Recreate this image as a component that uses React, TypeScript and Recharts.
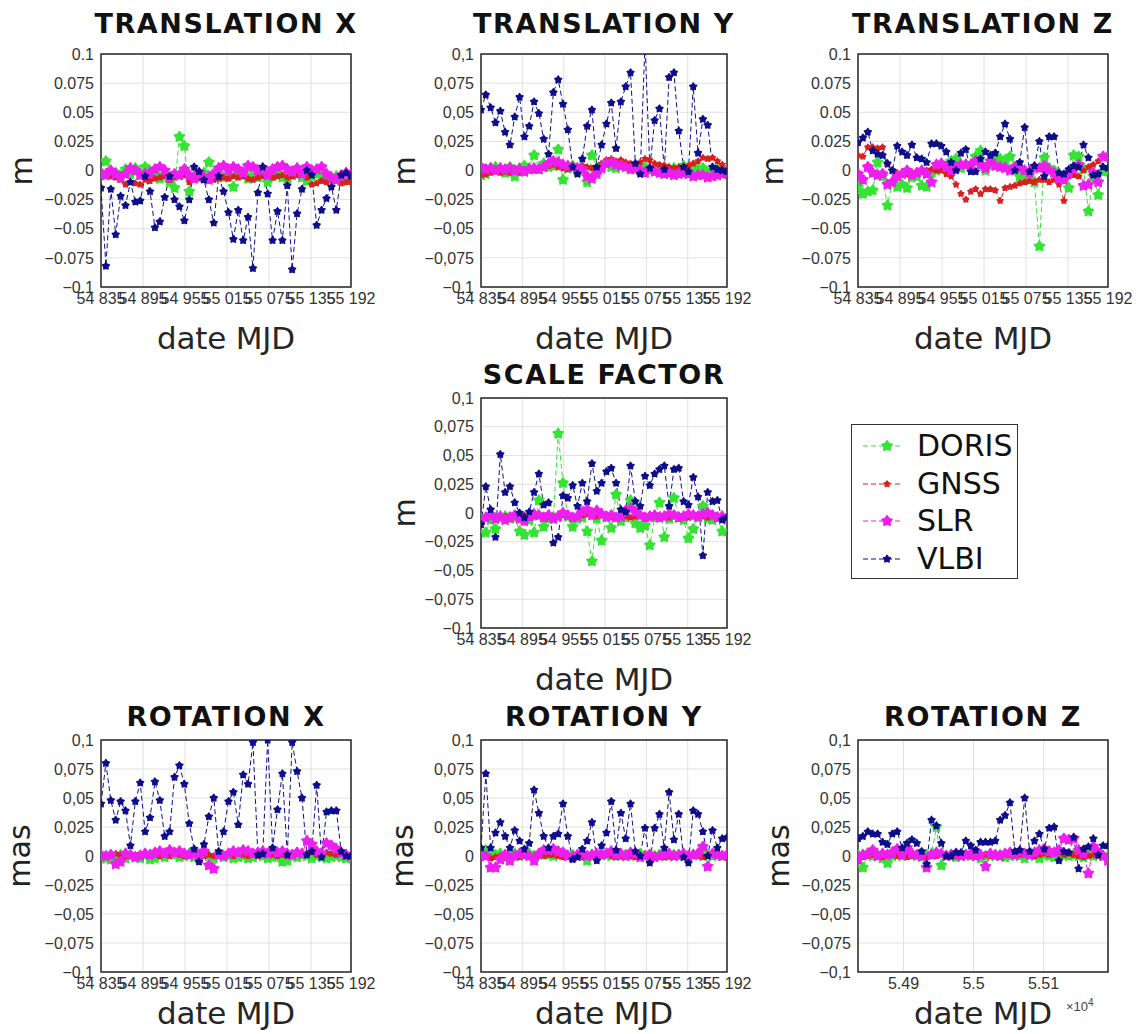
import React from 'react';
import { LineChart, Line, XAxis, YAxis, CartesianGrid, ReferenceArea } from 'recharts';

// weekly solutions, MJD
const MJD = [
  54835, 54842, 54849, 54856, 54863, 54870, 54877, 54884, 54891, 54898, 54905, 54912, 54919,
  54926, 54933, 54940, 54947, 54954, 54961, 54968, 54975, 54982, 54989, 54996, 55003, 55010,
  55017, 55024, 55031, 55038, 55045, 55052, 55059, 55066, 55073, 55080, 55087, 55094, 55101,
  55108, 55115, 55122, 55129, 55136, 55143, 55150, 55157, 55164, 55171, 55178, 55185, 55192,
];

const Y_TICKS = [-0.1, -0.075, -0.05, -0.025, 0, 0.025, 0.05, 0.075, 0.1];
const X_TICKS = [54835, 54895, 54955, 55015, 55075, 55135, 55192];
const X_TICKS_E4 = [54900, 55000, 55100];

// ---- TRANSLATION X (m)
const txDoris = [-0.003, 0.008, -0.004, -0.002, -0.006, 0.001, -0.003, 0.002, -0.004, 0.003, -0.005, -0.003, -0.007, -0.004, -0.010, -0.015, 0.029, 0.021, -0.018, -0.005, -0.003, -0.002, 0.007, -0.004, -0.003, -0.006, -0.005, -0.014, -0.002, -0.004, -0.007, -0.004, -0.006, -0.003, -0.010, -0.005, -0.003, -0.006, -0.008, -0.004, -0.002, -0.006, -0.009, -0.005, -0.003, -0.006, -0.004, -0.007, -0.005, -0.009, -0.006, -0.008];
const txGnss = [-0.003, -0.004, -0.005, -0.006, -0.008, -0.012, -0.010, -0.011, -0.012, -0.008, -0.009, -0.007, -0.006, -0.005, -0.008, -0.006, -0.005, -0.004, -0.010, -0.008, -0.007, -0.006, -0.005, -0.008, -0.007, -0.006, -0.007, -0.005, -0.006, -0.005, -0.007, -0.008, -0.006, -0.005, -0.004, -0.006, -0.005, -0.004, -0.006, -0.005, -0.004, -0.003, -0.006, -0.012, -0.011, -0.009, -0.010, -0.008, -0.009, -0.011, -0.010, -0.010];
const txSlr = [-0.002, -0.004, 0.000, -0.003, -0.006, -0.003, 0.002, 0.000, -0.004, -0.003, -0.002, 0.001, 0.003, 0.000, -0.006, -0.003, -0.004, 0.001, -0.004, -0.007, -0.002, -0.006, -0.008, -0.003, 0.002, 0.004, 0.000, 0.003, 0.001, -0.002, 0.004, 0.003, 0.000, 0.002, -0.004, 0.001, 0.003, 0.004, 0.001, -0.001, 0.002, -0.003, 0.003, 0.000, 0.001, 0.003, -0.003, -0.006, -0.008, -0.004, -0.002, -0.003];
const txVlbi = [-0.015, -0.082, -0.016, -0.055, -0.022, -0.030, -0.010, -0.027, -0.026, -0.005, -0.018, -0.049, -0.044, -0.023, -0.005, -0.025, -0.031, -0.043, -0.025, 0.003, -0.001, -0.008, -0.025, -0.045, -0.005, -0.018, -0.036, -0.059, -0.034, -0.060, -0.040, -0.084, -0.019, 0.003, -0.020, -0.060, -0.035, -0.060, -0.013, -0.085, -0.037, -0.016, 0.000, -0.004, -0.047, -0.034, -0.024, -0.014, -0.034, -0.004, -0.002, -0.005];

// ---- TRANSLATION Y (m)
const tyDoris = [-0.004, -0.003, 0.002, 0.003, 0.001, -0.002, 0.003, -0.005, 0.002, 0.004, 0.002, 0.013, 0.001, 0.006, 0.003, 0.004, 0.018, -0.008, 0.002, 0.004, -0.001, 0.003, -0.010, 0.013, 0.002, 0.004, 0.006, 0.003, 0.002, 0.005, 0.004, 0.003, 0.001, 0.002, 0.003, 0.000, 0.002, 0.001, 0.003, 0.001, 0.002, 0.000, 0.004, 0.002, 0.003, 0.001, 0.002, -0.002, 0.000, 0.001, 0.002, -0.001];
const tyGnss = [-0.004, -0.003, -0.002, -0.001, -0.002, -0.001, -0.002, -0.001, -0.002, -0.001, 0.000, 0.000, 0.002, 0.003, 0.004, 0.005, 0.003, 0.002, 0.001, 0.002, 0.003, 0.004, 0.003, 0.002, 0.001, 0.006, 0.009, 0.010, 0.008, 0.009, 0.007, 0.006, 0.005, 0.007, 0.010, 0.009, 0.006, 0.005, 0.004, 0.003, 0.002, 0.003, 0.002, 0.004, 0.006, 0.008, 0.011, 0.010, 0.011, 0.008, 0.005, 0.001];
const tySlr = [0.003, 0.001, 0.002, 0.000, 0.002, 0.001, 0.002, 0.000, 0.001, -0.001, 0.001, 0.002, 0.001, 0.003, 0.006, 0.008, 0.007, 0.005, 0.004, 0.003, 0.002, 0.001, -0.005, -0.007, -0.003, 0.002, 0.006, 0.007, 0.005, 0.004, 0.003, 0.001, 0.002, 0.000, -0.002, 0.001, -0.001, -0.002, -0.003, -0.002, -0.004, -0.003, -0.002, -0.003, -0.005, -0.004, -0.004, -0.006, -0.005, -0.004, -0.003, -0.002];
const tyVlbi = [0.052, 0.065, 0.054, 0.041, 0.051, 0.033, 0.022, 0.046, 0.063, 0.029, 0.038, 0.059, 0.049, 0.027, 0.014, 0.067, 0.078, 0.057, 0.035, 0.003, -0.003, 0.010, 0.038, 0.052, 0.003, 0.022, 0.040, 0.058, 0.019, 0.059, 0.072, 0.084, 0.006, -0.003, 0.110, 0.002, 0.043, 0.053, 0.001, 0.080, 0.084, 0.034, 0.003, -0.001, 0.072, 0.015, 0.044, 0.039, 0.003, 0.001, 0.000, -0.001];

// ---- TRANSLATION Z (m)
const tzDoris = [-0.014, -0.020, -0.018, -0.017, 0.007, -0.005, -0.030, -0.010, -0.014, -0.012, -0.015, -0.006, -0.005, -0.013, -0.014, -0.002, 0.000, 0.005, 0.003, 0.008, 0.010, 0.002, 0.005, 0.005, 0.012, 0.017, 0.000, 0.005, 0.012, 0.010, 0.008, 0.012, 0.002, -0.005, -0.008, -0.004, -0.010, -0.065, 0.011, 0.002, 0.000, -0.003, -0.008, -0.015, 0.013, 0.012, 0.002, -0.035, -0.005, -0.021, -0.001, 0.000];
const tzGnss = [0.013, 0.012, 0.020, 0.020, 0.019, 0.020, 0.005, 0.000, -0.002, -0.003, -0.003, -0.002, -0.003, -0.001, 0.000, 0.001, 0.000, 0.000, -0.003, -0.005, -0.012, -0.020, -0.025, -0.018, -0.016, -0.020, -0.016, -0.016, -0.017, -0.026, -0.015, -0.014, -0.013, -0.011, -0.010, -0.009, -0.010, -0.008, -0.008, -0.010, -0.008, -0.012, -0.026, -0.005, -0.004, -0.005, 0.000, 0.003, 0.005, 0.008, 0.012, 0.012];
const tzSlr = [-0.003, -0.008, 0.003, -0.002, -0.004, -0.003, -0.012, -0.010, -0.005, -0.003, 0.000, -0.004, -0.002, 0.000, -0.003, -0.010, 0.005, 0.006, 0.003, 0.000, 0.003, 0.005, 0.005, 0.004, 0.008, 0.005, 0.002, 0.008, 0.004, 0.003, 0.002, 0.000, 0.003, 0.002, 0.000, -0.002, 0.003, 0.002, 0.004, 0.000, -0.002, -0.007, -0.008, -0.002, 0.002, 0.005, -0.013, -0.012, -0.002, -0.010, 0.012, 0.012];
const tzVlbi = [0.024, 0.028, 0.033, 0.017, 0.014, 0.013, 0.006, 0.000, 0.021, 0.016, 0.013, 0.022, 0.011, 0.010, 0.007, 0.023, 0.023, 0.021, 0.016, 0.007, 0.000, 0.015, 0.018, -0.001, -0.001, 0.010, 0.016, 0.013, 0.015, 0.029, 0.040, 0.027, 0.000, 0.007, 0.037, -0.001, 0.004, 0.025, -0.005, 0.029, 0.029, -0.002, -0.003, 0.001, 0.004, 0.003, 0.022, 0.011, -0.004, -0.003, 0.003, 0.002];

// ---- SCALE FACTOR (m)
const scDoris = [-0.005, -0.017, -0.006, -0.014, -0.004, -0.003, -0.005, -0.004, -0.016, -0.019, -0.006, -0.017, 0.011, -0.012, -0.005, -0.004, 0.069, 0.026, -0.003, -0.012, -0.005, -0.004, -0.016, -0.042, -0.005, -0.024, -0.004, -0.013, 0.016, -0.007, -0.004, 0.011, -0.009, -0.013, -0.011, -0.028, -0.004, 0.009, -0.021, -0.005, 0.013, -0.004, -0.006, -0.022, -0.014, -0.004, 0.006, -0.005, -0.006, -0.004, -0.016, -0.005];
const scGnss = [-0.004, -0.003, -0.002, -0.003, -0.004, -0.003, -0.002, -0.003, -0.003, -0.002, -0.004, -0.003, -0.002, -0.003, -0.004, -0.003, -0.002, -0.002, -0.003, -0.004, -0.003, -0.002, -0.001, -0.002, -0.003, -0.002, -0.003, -0.004, -0.003, -0.002, -0.003, -0.004, -0.003, -0.002, -0.003, -0.004, -0.003, -0.002, -0.003, -0.004, -0.003, -0.002, -0.003, -0.004, -0.003, -0.002, -0.003, -0.004, -0.003, -0.002, -0.003, -0.004];
const scSlr = [-0.006, -0.004, -0.002, -0.005, -0.003, -0.006, -0.004, -0.002, -0.005, -0.007, -0.003, -0.001, -0.002, -0.004, -0.002, -0.005, -0.003, 0.000, -0.002, -0.004, -0.003, 0.001, 0.003, -0.002, 0.002, -0.001, -0.003, -0.002, -0.004, -0.003, 0.002, 0.004, 0.001, -0.002, -0.004, -0.003, -0.002, -0.004, -0.003, -0.001, -0.002, -0.004, -0.003, -0.001, -0.002, -0.003, -0.001, 0.000, -0.002, -0.004, -0.003, -0.005];
const scVlbi = [-0.010, 0.023, 0.003, -0.021, 0.051, 0.018, 0.023, 0.009, 0.000, -0.004, 0.001, 0.018, 0.034, 0.007, 0.009, -0.026, -0.021, 0.015, 0.013, 0.024, 0.006, 0.026, 0.010, 0.043, 0.019, 0.026, 0.036, 0.039, 0.026, 0.003, 0.001, 0.041, 0.010, 0.006, 0.032, 0.024, 0.034, 0.038, 0.041, 0.006, 0.038, 0.039, 0.010, 0.007, 0.031, 0.014, -0.037, 0.018, 0.010, 0.011, -0.006, -0.004];

// ---- ROTATION X (mas)
const rxDoris = [0.000, -0.002, -0.003, -0.001, 0.001, -0.002, 0.000, -0.001, -0.002, 0.001, -0.003, -0.002, 0.000, -0.001, 0.002, 0.001, -0.001, 0.000, 0.002, -0.001, 0.001, 0.002, 0.000, -0.002, 0.001, -0.001, 0.000, -0.002, -0.001, 0.000, -0.002, -0.001, 0.001, 0.000, -0.002, -0.001, 0.000, -0.005, -0.004, 0.000, -0.001, 0.001, 0.000, -0.002, 0.000, -0.001, -0.002, -0.001, 0.000, -0.001, -0.002, -0.001];
const rxGnss = [0.001, 0.000, 0.001, 0.002, 0.001, 0.000, 0.001, 0.000, 0.002, 0.001, 0.000, 0.001, 0.000, 0.001, 0.000, 0.002, 0.001, 0.000, 0.001, 0.002, 0.001, 0.000, 0.001, 0.000, 0.001, 0.000, 0.001, 0.000, 0.002, 0.001, 0.000, 0.001, 0.000, 0.001, 0.002, 0.001, 0.000, 0.001, 0.000, 0.001, 0.002, 0.001, 0.002, 0.003, 0.001, 0.002, 0.003, 0.002, 0.001, 0.002, 0.000, 0.001];
const rxSlr = [0.001, 0.000, 0.001, -0.007, -0.005, 0.002, 0.001, -0.001, 0.000, 0.002, 0.001, 0.003, 0.004, 0.002, 0.005, 0.003, 0.004, 0.002, 0.001, 0.003, -0.002, 0.004, -0.008, -0.011, 0.001, 0.000, 0.002, 0.004, 0.003, 0.005, 0.004, 0.002, 0.003, 0.004, 0.002, 0.005, 0.003, 0.004, 0.002, 0.001, 0.003, 0.002, 0.013, 0.010, 0.004, 0.002, 0.011, 0.009, 0.006, 0.003, 0.001, 0.000];
const rxVlbi = [0.045, 0.080, 0.048, 0.031, 0.047, 0.039, 0.009, 0.047, 0.063, 0.021, 0.033, 0.064, 0.048, 0.017, 0.021, 0.068, 0.078, 0.062, 0.028, 0.006, -0.005, 0.010, 0.034, 0.050, 0.004, 0.021, 0.047, 0.055, 0.027, 0.070, 0.062, 0.098, 0.001, 0.002, 0.100, 0.007, 0.040, 0.071, 0.001, 0.098, 0.073, 0.050, 0.001, 0.004, 0.061, -0.001, 0.038, 0.039, 0.039, 0.004, 0.000, 0.000];

// ---- ROTATION Y (mas)
const ryDoris = [0.003, 0.005, 0.003, 0.001, 0.002, 0.000, 0.001, 0.002, 0.000, 0.001, 0.002, 0.000, 0.001, 0.002, 0.001, 0.000, 0.002, 0.001, 0.000, 0.001, 0.000, 0.002, -0.004, 0.001, 0.000, 0.002, 0.001, 0.000, 0.001, 0.000, 0.001, 0.000, 0.001, 0.002, 0.000, 0.001, 0.000, 0.001, 0.002, 0.000, 0.001, 0.000, 0.001, 0.000, 0.001, 0.002, 0.000, 0.001, 0.000, 0.001, 0.000, 0.001];
const ryGnss = [-0.001, 0.000, -0.002, -0.001, 0.000, -0.002, -0.001, 0.000, -0.001, 0.001, 0.000, -0.001, 0.001, 0.000, 0.001, 0.001, 0.000, -0.001, 0.000, 0.001, 0.000, -0.001, 0.000, 0.001, 0.000, 0.000, 0.001, 0.000, -0.001, 0.000, 0.001, 0.000, -0.001, 0.000, -0.001, -0.002, -0.001, 0.000, -0.001, 0.000, 0.001, 0.000, -0.001, 0.000, 0.001, 0.000, -0.001, 0.000, 0.001, 0.000, 0.000, 0.001];
const rySlr = [0.001, 0.000, -0.010, -0.010, -0.003, 0.001, -0.004, 0.000, 0.002, 0.001, 0.000, -0.004, 0.002, 0.005, 0.005, 0.006, 0.004, 0.003, 0.000, -0.001, 0.001, 0.002, 0.000, 0.001, 0.002, 0.001, 0.002, 0.004, 0.001, 0.002, 0.000, 0.003, 0.002, -0.001, 0.000, 0.001, -0.001, 0.000, 0.001, 0.002, 0.000, 0.001, 0.002, 0.000, 0.001, 0.002, 0.008, -0.009, 0.002, 0.001, 0.000, 0.001];
const ryVlbi = [0.007, 0.071, 0.007, 0.020, 0.029, 0.017, 0.007, 0.022, 0.013, 0.006, 0.011, 0.057, 0.037, 0.017, 0.007, 0.017, 0.019, 0.045, 0.017, -0.003, -0.001, 0.006, 0.013, 0.029, -0.004, 0.009, 0.020, 0.047, 0.005, 0.037, 0.015, 0.045, 0.004, 0.000, 0.024, -0.006, 0.024, 0.036, 0.007, 0.055, 0.014, 0.036, -0.001, -0.006, 0.039, 0.036, 0.021, 0.000, 0.022, 0.007, 0.015, 0.016];

// ---- ROTATION Z (mas)
const rzDoris = [0.001, -0.010, 0.002, 0.000, 0.001, -0.002, -0.006, 0.000, 0.001, 0.000, 0.002, 0.001, 0.000, -0.001, 0.001, 0.002, 0.025, -0.008, 0.000, 0.001, -0.001, 0.000, 0.001, 0.000, 0.001, -0.002, 0.000, 0.001, 0.000, 0.001, -0.001, 0.000, 0.001, 0.000, -0.002, 0.001, 0.000, -0.002, 0.001, 0.000, -0.001, 0.000, 0.001, 0.000, 0.001, 0.000, -0.001, 0.003, 0.000, 0.001, 0.000, 0.000];
const rzGnss = [0.000, -0.001, 0.000, 0.001, 0.000, -0.001, 0.000, 0.001, 0.000, 0.000, -0.001, 0.000, 0.001, 0.000, -0.001, 0.000, 0.000, 0.001, 0.000, -0.001, 0.000, 0.001, 0.000, 0.000, -0.001, 0.000, 0.001, 0.000, 0.000, 0.001, 0.002, 0.001, 0.000, 0.001, 0.002, 0.001, 0.000, 0.001, 0.002, 0.001, 0.002, 0.003, 0.001, 0.002, 0.001, 0.000, -0.001, 0.000, 0.001, 0.000, -0.001, 0.000];
const rzSlr = [-0.003, 0.001, 0.002, 0.005, 0.000, 0.002, 0.001, 0.003, 0.006, 0.001, 0.007, 0.002, 0.001, 0.000, -0.010, 0.001, 0.003, 0.002, 0.000, 0.001, 0.002, 0.000, 0.001, 0.002, 0.000, 0.001, -0.009, 0.002, 0.001, 0.000, 0.002, 0.003, 0.001, 0.004, 0.002, 0.001, 0.003, 0.005, 0.006, 0.004, 0.003, 0.005, 0.015, 0.014, 0.015, 0.005, 0.002, -0.015, 0.008, 0.003, 0.000, -0.004];
const rzVlbi = [0.015, 0.017, 0.021, 0.019, 0.019, 0.012, 0.010, 0.019, 0.021, 0.007, 0.011, 0.014, 0.011, 0.004, -0.007, 0.031, 0.026, 0.011, 0.000, 0.000, 0.003, 0.003, 0.013, 0.009, 0.005, 0.012, 0.012, 0.012, 0.013, 0.031, 0.035, 0.046, 0.004, 0.005, 0.050, 0.004, 0.013, 0.019, 0.006, 0.024, 0.025, -0.004, 0.004, 0.003, 0.016, -0.011, 0.006, 0.008, 0.015, 0.001, 0.009, 0.009];

const SERIES = [
  { key: 'doris', name: 'DORIS', color: '#35e335', r: 5.5 },
  { key: 'gnss', name: 'GNSS', color: '#d82020', r: 3.2 },
  { key: 'slr', name: 'SLR', color: '#ee1fee', r: 5.5 },
  { key: 'vlbi', name: 'VLBI', color: '#0e0e8c', r: 3.8 },
];

const FONT = '"DejaVu Sans", sans-serif';
const TICK_FONT = '"Liberation Sans", Arial, sans-serif';

const makeRows = (doris: number[], gnss: number[], slr: number[], vlbi: number[]) =>
  MJD.map((x, i) => ({ x, doris: doris[i], gnss: gnss[i], slr: slr[i], vlbi: vlbi[i] }));

const fmtMjd = (v: number) => `${Math.floor(v / 1000)} ${String(v % 1000).padStart(3, '0')}`;
const fmtE4 = (v: number) => String(v / 10000);
const fmtY = (comma: boolean) => (v: number) => {
  const s = v === 0 ? '0' : String(v).replace('-', '\u2212');
  return comma ? s.replace('.', ',') : s;
};

function starPoints(cx: number, cy: number, r: number) {
  const pts: string[] = [];
  for (let i = 0; i < 10; i++) {
    const a = -Math.PI / 2 + (i * Math.PI) / 5;
    const rr = i % 2 === 0 ? r : r * 0.6;
    pts.push(`${(cx + rr * Math.cos(a)).toFixed(2)},${(cy + rr * Math.sin(a)).toFixed(2)}`);
  }
  return pts.join(' ');
}

const makeDot = (color: string, r: number) => (props: any) => {
  const { cx, cy, index } = props;
  if (cx == null || cy == null || isNaN(cx) || isNaN(cy)) return <g key={`d${index}`} />;
  return (
    <polygon key={`d${index}`} points={starPoints(cx, cy, r)} fill={color} stroke={color} strokeWidth={1.2} strokeLinejoin="round" />
  );
};

interface PanelDef {
  title: string;
  unit: string;
  x: number; // plot area left (page px)
  y: number; // plot area top
  w: number;
  h: number;
  comma: boolean;
  sci?: boolean;
  data: any[];
  titleY: number;
  labelY: number;
  unitX: number;
}

const PANELS: PanelDef[] = [
  { title: 'TRANSLATION X', unit: 'm', x: 101, y: 54, w: 250, h: 233, comma: false, data: makeRows(txDoris, txGnss, txSlr, txVlbi), titleY: 23, labelY: 338, unitX: 22 },
  { title: 'TRANSLATION Y', unit: 'm', x: 481, y: 54, w: 246, h: 233, comma: true, data: makeRows(tyDoris, tyGnss, tySlr, tyVlbi), titleY: 23, labelY: 338, unitX: 405 },
  { title: 'TRANSLATION Z', unit: 'm', x: 858, y: 54, w: 250, h: 233, comma: false, data: makeRows(tzDoris, tzGnss, tzSlr, tzVlbi), titleY: 23, labelY: 338, unitX: 773 },
  { title: 'SCALE FACTOR', unit: 'm', x: 481, y: 398, w: 246, h: 230, comma: true, data: makeRows(scDoris, scGnss, scSlr, scVlbi), titleY: 374, labelY: 679, unitX: 405 },
  { title: 'ROTATION X', unit: 'mas', x: 101, y: 740, w: 250, h: 232, comma: true, data: makeRows(rxDoris, rxGnss, rxSlr, rxVlbi), titleY: 716, labelY: 1013, unitX: 20 },
  { title: 'ROTATION Y', unit: 'mas', x: 481, y: 740, w: 246, h: 232, comma: true, data: makeRows(ryDoris, ryGnss, rySlr, ryVlbi), titleY: 716, labelY: 1013, unitX: 403 },
  { title: 'ROTATION Z', unit: 'mas', x: 858, y: 740, w: 250, h: 232, comma: true, sci: true, data: makeRows(rzDoris, rzGnss, rzSlr, rzVlbi), titleY: 716, labelY: 1013, unitX: 779 },
];

const centered = (left: number, top: number): React.CSSProperties => ({
  position: 'absolute',
  left,
  top,
  transform: 'translate(-50%, -50%)',
  whiteSpace: 'nowrap',
  lineHeight: 1,
});

function Panel({ p }: { p: PanelDef }) {
  const YW = 70;
  const XH = 32;
  const cx = p.x + p.w / 2;
  return (
    <>
      <div style={{ ...centered(cx, p.titleY), fontSize: 27, fontWeight: 'bold', letterSpacing: 1.6, color: '#111' }}>
        {p.title}
      </div>
      <div style={{ ...centered(p.unitX, p.y + p.h / 2), transform: 'translate(-50%, -50%) rotate(-90deg)', fontSize: 30, color: '#222' }}>
        {p.unit}
      </div>
      <div style={{ ...centered(cx, p.labelY), fontSize: 31, color: '#262626', letterSpacing: -0.2 }}>date MJD</div>
      {p.sci && (
        <div style={{ position: 'absolute', left: 1066, top: 997, fontSize: 13, color: '#444', fontFamily: TICK_FONT, whiteSpace: 'nowrap' }}>
          {'\u00d7'}10<sup style={{ fontSize: 10 }}>4</sup>
        </div>
      )}
      <div style={{ position: 'absolute', left: p.x - YW, top: p.y - 10 }}>
        <LineChart width={YW + p.w + 25} height={10 + p.h + XH} data={p.data} margin={{ top: 10, right: 25, bottom: 0, left: 0 }}>
          <CartesianGrid stroke="#e1e1e1" strokeWidth={1} />
          <XAxis
            dataKey="x"
            type="number"
            domain={[54835, 55192]}
            ticks={p.sci ? X_TICKS_E4 : X_TICKS}
            tickFormatter={p.sci ? fmtE4 : fmtMjd}
            interval={0}
            allowDataOverflow
            height={XH}
            axisLine={false}
            tickLine={false}
            tickMargin={3}
            tickSize={3}
            tick={{ fontSize: 16, fill: '#333', fontFamily: TICK_FONT }}
          />
          <YAxis
            type="number"
            domain={[-0.1, 0.1]}
            ticks={Y_TICKS}
            tickFormatter={fmtY(p.comma)}
            interval={0}
            allowDataOverflow
            width={YW}
            axisLine={false}
            tickLine={false}
            tickMargin={3}
            tickSize={4}
            tick={{ fontSize: 16, fill: '#333', fontFamily: TICK_FONT }}
          />
          {SERIES.map((s) => (
            <Line
              key={s.key}
              dataKey={s.key}
              name={s.name}
              type="linear"
              stroke={s.color}
              strokeWidth={1}
              strokeDasharray="5 3"
              dot={makeDot(s.color, s.r)}
              activeDot={false}
              isAnimationActive={false}
            />
          ))}
          <ReferenceArea x1={54835} x2={55192} y1={-0.1} y2={0.1} fill="none" stroke="#262626" strokeWidth={1.5} ifOverflow="visible" />
        </LineChart>
      </div>
    </>
  );
}

function LegendBox() {
  return (
    <div
      style={{
        position: 'absolute',
        left: 851,
        top: 424,
        width: 165,
        height: 153,
        border: '1.5px solid #333',
        background: '#fff',
      }}
    >
      {SERIES.map((s, i) => (
        <div key={s.key} style={{ position: 'absolute', left: 0, top: 2 + i * 37.5, height: 37.5, width: 165 }}>
          <svg width={60} height={38} style={{ position: 'absolute', left: 0, top: 0 }}>
            <line x1={11} x2={51} y1={19} y2={19} stroke={s.color} strokeWidth={1} strokeDasharray="5 3" />
            <polygon points={starPoints(35, 19, s.r)} fill={s.color} stroke={s.color} strokeWidth={1.2} strokeLinejoin="round" />
          </svg>
          <div style={{ position: 'absolute', left: 65, top: 19, transform: 'translateY(-50%)', fontSize: 30, lineHeight: 1, color: '#111' }}>
            {s.name}
          </div>
        </div>
      ))}
    </div>
  );
}

export default function App() {
  return (
    <div style={{ position: 'absolute', left: 0, top: 0, width: 1136, height: 1034, overflow: 'hidden', background: '#fff', fontFamily: FONT }}>
      {PANELS.map((p) => (
        <Panel key={p.title} p={p} />
      ))}
      <LegendBox />
    </div>
  );
}
